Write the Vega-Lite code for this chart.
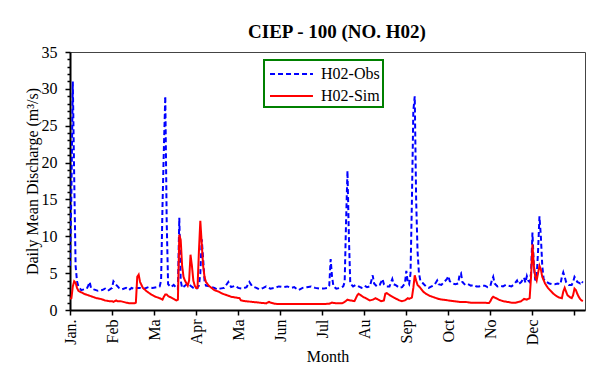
{
  "$schema": "https://vega.github.io/schema/vega-lite/v6.json",
  "width": 515,
  "height": 258,
  "autosize": "none",
  "padding": {"left": 70, "top": 52, "right": 7, "bottom": 69},
  "title": {"text": "CIEP - 100 (NO. H02)", "font": "Liberation Serif", "fontSize": 19, "fontWeight": "bold", "color": "#000", "anchor": "middle", "frame": "group", "dx": 9.5, "offset": 2},
  "config": {
    "view": {"stroke": "#444", "strokeWidth": 1},
    "legend": {"strokeWidth": 2},
    "axis": {"labelFont": "Liberation Serif", "titleFont": "Liberation Serif", "labelFontSize": 16, "titleFontSize": 16, "titleFontWeight": "normal", "labelColor": "#000", "titleColor": "#000", "domainColor": "#000", "domainWidth": 2, "tickColor": "#000", "tickWidth": 1.5, "grid": false}
  },
  "data": {"values": [
    {"d":0,"v":6,"s":"H02-Obs"},{"d":1,"v":16,"s":"H02-Obs"},{"d":2,"v":31,"s":"H02-Obs"},{"d":3,"v":18,"s":"H02-Obs"},{"d":4,"v":6,"s":"H02-Obs"},{"d":5,"v":3.9,"s":"H02-Obs"},{"d":6,"v":3.2,"s":"H02-Obs"},{"d":8,"v":2.7,"s":"H02-Obs"},{"d":10,"v":2.8,"s":"H02-Obs"},{"d":12,"v":2.9,"s":"H02-Obs"},{"d":13,"v":3.3,"s":"H02-Obs"},{"d":14,"v":3.8,"s":"H02-Obs"},{"d":15,"v":3.0,"s":"H02-Obs"},{"d":17,"v":2.8,"s":"H02-Obs"},{"d":20,"v":2.6,"s":"H02-Obs"},{"d":23,"v":2.7,"s":"H02-Obs"},{"d":25,"v":2.9,"s":"H02-Obs"},{"d":27,"v":2.6,"s":"H02-Obs"},{"d":30,"v":3.0,"s":"H02-Obs"},{"d":31,"v":3.9,"s":"H02-Obs"},{"d":33,"v":3.4,"s":"H02-Obs"},{"d":35,"v":3.0,"s":"H02-Obs"},{"d":37,"v":2.8,"s":"H02-Obs"},{"d":40,"v":3.0,"s":"H02-Obs"},{"d":42,"v":2.7,"s":"H02-Obs"},{"d":44,"v":3.0,"s":"H02-Obs"},{"d":46,"v":2.8,"s":"H02-Obs"},{"d":48,"v":3.0,"s":"H02-Obs"},{"d":50,"v":3.0,"s":"H02-Obs"},{"d":53,"v":2.9,"s":"H02-Obs"},{"d":56,"v":3.1,"s":"H02-Obs"},{"d":59,"v":3.0,"s":"H02-Obs"},{"d":62,"v":3.1,"s":"H02-Obs"},{"d":64,"v":3.2,"s":"H02-Obs"},{"d":65,"v":4.0,"s":"H02-Obs"},{"d":66,"v":14,"s":"H02-Obs"},{"d":67,"v":22,"s":"H02-Obs"},{"d":68,"v":29,"s":"H02-Obs"},{"d":69,"v":12,"s":"H02-Obs"},{"d":70,"v":3.5,"s":"H02-Obs"},{"d":72,"v":3.1,"s":"H02-Obs"},{"d":74,"v":3.4,"s":"H02-Obs"},{"d":75,"v":3.2,"s":"H02-Obs"},{"d":77,"v":2.8,"s":"H02-Obs"},{"d":78,"v":12.5,"s":"H02-Obs"},{"d":79,"v":4,"s":"H02-Obs"},{"d":80,"v":3.0,"s":"H02-Obs"},{"d":82,"v":3.3,"s":"H02-Obs"},{"d":84,"v":3.6,"s":"H02-Obs"},{"d":86,"v":3.3,"s":"H02-Obs"},{"d":88,"v":3.0,"s":"H02-Obs"},{"d":90,"v":2.8,"s":"H02-Obs"},{"d":92,"v":3.3,"s":"H02-Obs"},{"d":93,"v":5,"s":"H02-Obs"},{"d":94,"v":9.6,"s":"H02-Obs"},{"d":95,"v":7,"s":"H02-Obs"},{"d":96,"v":4,"s":"H02-Obs"},{"d":97,"v":3.3,"s":"H02-Obs"},{"d":100,"v":3.2,"s":"H02-Obs"},{"d":103,"v":3.0,"s":"H02-Obs"},{"d":105,"v":2.8,"s":"H02-Obs"},{"d":107,"v":2.9,"s":"H02-Obs"},{"d":110,"v":3.0,"s":"H02-Obs"},{"d":113,"v":3.8,"s":"H02-Obs"},{"d":115,"v":3.1,"s":"H02-Obs"},{"d":118,"v":3.3,"s":"H02-Obs"},{"d":120,"v":3.0,"s":"H02-Obs"},{"d":123,"v":2.9,"s":"H02-Obs"},{"d":126,"v":3.1,"s":"H02-Obs"},{"d":128,"v":3.8,"s":"H02-Obs"},{"d":130,"v":3.2,"s":"H02-Obs"},{"d":133,"v":3.0,"s":"H02-Obs"},{"d":135,"v":2.8,"s":"H02-Obs"},{"d":138,"v":3.0,"s":"H02-Obs"},{"d":140,"v":3.2,"s":"H02-Obs"},{"d":143,"v":2.9,"s":"H02-Obs"},{"d":146,"v":3.0,"s":"H02-Obs"},{"d":149,"v":3.2,"s":"H02-Obs"},{"d":152,"v":3.1,"s":"H02-Obs"},{"d":155,"v":3.2,"s":"H02-Obs"},{"d":158,"v":3.0,"s":"H02-Obs"},{"d":160,"v":3.1,"s":"H02-Obs"},{"d":163,"v":2.7,"s":"H02-Obs"},{"d":166,"v":3.0,"s":"H02-Obs"},{"d":169,"v":3.1,"s":"H02-Obs"},{"d":172,"v":3.2,"s":"H02-Obs"},{"d":175,"v":3.0,"s":"H02-Obs"},{"d":178,"v":2.9,"s":"H02-Obs"},{"d":181,"v":2.9,"s":"H02-Obs"},{"d":184,"v":3.0,"s":"H02-Obs"},{"d":185,"v":3.3,"s":"H02-Obs"},{"d":186,"v":6.9,"s":"H02-Obs"},{"d":187,"v":4.5,"s":"H02-Obs"},{"d":188,"v":3.2,"s":"H02-Obs"},{"d":190,"v":2.9,"s":"H02-Obs"},{"d":193,"v":3.0,"s":"H02-Obs"},{"d":195,"v":3.2,"s":"H02-Obs"},{"d":196,"v":3.8,"s":"H02-Obs"},{"d":197,"v":12,"s":"H02-Obs"},{"d":198,"v":18.9,"s":"H02-Obs"},{"d":199,"v":10,"s":"H02-Obs"},{"d":200,"v":3.6,"s":"H02-Obs"},{"d":202,"v":3.2,"s":"H02-Obs"},{"d":204,"v":3.4,"s":"H02-Obs"},{"d":206,"v":3.2,"s":"H02-Obs"},{"d":208,"v":3.0,"s":"H02-Obs"},{"d":210,"v":3.3,"s":"H02-Obs"},{"d":212,"v":3.1,"s":"H02-Obs"},{"d":214,"v":3.2,"s":"H02-Obs"},{"d":216,"v":4.7,"s":"H02-Obs"},{"d":217,"v":3.6,"s":"H02-Obs"},{"d":219,"v":3.2,"s":"H02-Obs"},{"d":221,"v":3.4,"s":"H02-Obs"},{"d":223,"v":4.2,"s":"H02-Obs"},{"d":224,"v":3.5,"s":"H02-Obs"},{"d":226,"v":3.2,"s":"H02-Obs"},{"d":228,"v":3.2,"s":"H02-Obs"},{"d":230,"v":4.2,"s":"H02-Obs"},{"d":231,"v":3.5,"s":"H02-Obs"},{"d":233,"v":3.3,"s":"H02-Obs"},{"d":235,"v":3.0,"s":"H02-Obs"},{"d":237,"v":3.1,"s":"H02-Obs"},{"d":239,"v":3.6,"s":"H02-Obs"},{"d":240,"v":5.3,"s":"H02-Obs"},{"d":241,"v":3.8,"s":"H02-Obs"},{"d":242,"v":3.5,"s":"H02-Obs"},{"d":243,"v":5,"s":"H02-Obs"},{"d":244,"v":15,"s":"H02-Obs"},{"d":245,"v":27,"s":"H02-Obs"},{"d":246,"v":29,"s":"H02-Obs"},{"d":247,"v":15,"s":"H02-Obs"},{"d":248,"v":8,"s":"H02-Obs"},{"d":249,"v":5,"s":"H02-Obs"},{"d":250,"v":4,"s":"H02-Obs"},{"d":252,"v":3.6,"s":"H02-Obs"},{"d":254,"v":3.2,"s":"H02-Obs"},{"d":256,"v":3.0,"s":"H02-Obs"},{"d":258,"v":3.2,"s":"H02-Obs"},{"d":260,"v":3.4,"s":"H02-Obs"},{"d":262,"v":4.0,"s":"H02-Obs"},{"d":263,"v":3.5,"s":"H02-Obs"},{"d":265,"v":3.4,"s":"H02-Obs"},{"d":267,"v":3.8,"s":"H02-Obs"},{"d":269,"v":4.2,"s":"H02-Obs"},{"d":270,"v":4.6,"s":"H02-Obs"},{"d":271,"v":3.9,"s":"H02-Obs"},{"d":273,"v":3.6,"s":"H02-Obs"},{"d":275,"v":3.5,"s":"H02-Obs"},{"d":277,"v":3.6,"s":"H02-Obs"},{"d":278,"v":4.8,"s":"H02-Obs"},{"d":279,"v":5.0,"s":"H02-Obs"},{"d":280,"v":3.8,"s":"H02-Obs"},{"d":282,"v":3.4,"s":"H02-Obs"},{"d":284,"v":3.5,"s":"H02-Obs"},{"d":286,"v":3.3,"s":"H02-Obs"},{"d":288,"v":3.4,"s":"H02-Obs"},{"d":290,"v":3.2,"s":"H02-Obs"},{"d":292,"v":3.2,"s":"H02-Obs"},{"d":294,"v":3.3,"s":"H02-Obs"},{"d":296,"v":3.3,"s":"H02-Obs"},{"d":298,"v":3.1,"s":"H02-Obs"},{"d":300,"v":3.3,"s":"H02-Obs"},{"d":301,"v":4.0,"s":"H02-Obs"},{"d":302,"v":4.5,"s":"H02-Obs"},{"d":303,"v":3.6,"s":"H02-Obs"},{"d":305,"v":3.2,"s":"H02-Obs"},{"d":307,"v":3.3,"s":"H02-Obs"},{"d":309,"v":3.2,"s":"H02-Obs"},{"d":311,"v":3.4,"s":"H02-Obs"},{"d":313,"v":3.3,"s":"H02-Obs"},{"d":315,"v":3.2,"s":"H02-Obs"},{"d":317,"v":3.5,"s":"H02-Obs"},{"d":319,"v":4.0,"s":"H02-Obs"},{"d":320,"v":3.5,"s":"H02-Obs"},{"d":322,"v":3.8,"s":"H02-Obs"},{"d":324,"v":4.4,"s":"H02-Obs"},{"d":325,"v":3.7,"s":"H02-Obs"},{"d":326,"v":4.6,"s":"H02-Obs"},{"d":327,"v":4.0,"s":"H02-Obs"},{"d":328,"v":3.8,"s":"H02-Obs"},{"d":329,"v":5,"s":"H02-Obs"},{"d":330,"v":10.5,"s":"H02-Obs"},{"d":331,"v":6,"s":"H02-Obs"},{"d":332,"v":4,"s":"H02-Obs"},{"d":333,"v":4.5,"s":"H02-Obs"},{"d":334,"v":8,"s":"H02-Obs"},{"d":335,"v":12.7,"s":"H02-Obs"},{"d":336,"v":10,"s":"H02-Obs"},{"d":337,"v":6,"s":"H02-Obs"},{"d":338,"v":4.2,"s":"H02-Obs"},{"d":340,"v":3.8,"s":"H02-Obs"},{"d":342,"v":3.6,"s":"H02-Obs"},{"d":344,"v":3.5,"s":"H02-Obs"},{"d":346,"v":3.5,"s":"H02-Obs"},{"d":348,"v":3.6,"s":"H02-Obs"},{"d":350,"v":3.5,"s":"H02-Obs"},{"d":351,"v":4.5,"s":"H02-Obs"},{"d":352,"v":5.1,"s":"H02-Obs"},{"d":353,"v":4.5,"s":"H02-Obs"},{"d":354,"v":3.8,"s":"H02-Obs"},{"d":356,"v":3.4,"s":"H02-Obs"},{"d":358,"v":3.4,"s":"H02-Obs"},{"d":359,"v":3.8,"s":"H02-Obs"},{"d":360,"v":4.5,"s":"H02-Obs"},{"d":361,"v":4.2,"s":"H02-Obs"},{"d":362,"v":3.8,"s":"H02-Obs"},{"d":363,"v":3.7,"s":"H02-Obs"},{"d":364,"v":3.6,"s":"H02-Obs"},{"d":365,"v":3.9,"s":"H02-Obs"},{"d":366,"v":3.7,"s":"H02-Obs"},
    {"d":0,"v":1.5,"s":"H02-Sim"},{"d":1,"v":1.6,"s":"H02-Sim"},{"d":2,"v":3.2,"s":"H02-Sim"},{"d":3,"v":3.9,"s":"H02-Sim"},{"d":4,"v":3.7,"s":"H02-Sim"},{"d":5,"v":3.0,"s":"H02-Sim"},{"d":6,"v":2.6,"s":"H02-Sim"},{"d":8,"v":2.4,"s":"H02-Sim"},{"d":10,"v":2.2,"s":"H02-Sim"},{"d":13,"v":2.0,"s":"H02-Sim"},{"d":16,"v":1.8,"s":"H02-Sim"},{"d":19,"v":1.6,"s":"H02-Sim"},{"d":22,"v":1.5,"s":"H02-Sim"},{"d":25,"v":1.3,"s":"H02-Sim"},{"d":28,"v":1.2,"s":"H02-Sim"},{"d":30,"v":1.2,"s":"H02-Sim"},{"d":31,"v":1.1,"s":"H02-Sim"},{"d":33,"v":1.3,"s":"H02-Sim"},{"d":34,"v":1.2,"s":"H02-Sim"},{"d":36,"v":1.2,"s":"H02-Sim"},{"d":38,"v":1.1,"s":"H02-Sim"},{"d":40,"v":1.0,"s":"H02-Sim"},{"d":43,"v":0.9,"s":"H02-Sim"},{"d":46,"v":0.9,"s":"H02-Sim"},{"d":47,"v":1.0,"s":"H02-Sim"},{"d":48,"v":4.5,"s":"H02-Sim"},{"d":49,"v":4.8,"s":"H02-Sim"},{"d":50,"v":3.8,"s":"H02-Sim"},{"d":52,"v":3.0,"s":"H02-Sim"},{"d":55,"v":2.5,"s":"H02-Sim"},{"d":58,"v":2.1,"s":"H02-Sim"},{"d":61,"v":1.8,"s":"H02-Sim"},{"d":64,"v":1.6,"s":"H02-Sim"},{"d":66,"v":1.4,"s":"H02-Sim"},{"d":67,"v":1.8,"s":"H02-Sim"},{"d":68,"v":2.1,"s":"H02-Sim"},{"d":69,"v":2.1,"s":"H02-Sim"},{"d":70,"v":1.9,"s":"H02-Sim"},{"d":72,"v":1.7,"s":"H02-Sim"},{"d":74,"v":1.5,"s":"H02-Sim"},{"d":76,"v":1.3,"s":"H02-Sim"},{"d":77,"v":1.4,"s":"H02-Sim"},{"d":78,"v":10.2,"s":"H02-Sim"},{"d":79,"v":9.5,"s":"H02-Sim"},{"d":80,"v":6,"s":"H02-Sim"},{"d":81,"v":4.5,"s":"H02-Sim"},{"d":82,"v":4,"s":"H02-Sim"},{"d":84,"v":3.3,"s":"H02-Sim"},{"d":85,"v":4,"s":"H02-Sim"},{"d":86,"v":7.5,"s":"H02-Sim"},{"d":87,"v":6,"s":"H02-Sim"},{"d":88,"v":4,"s":"H02-Sim"},{"d":89,"v":3.3,"s":"H02-Sim"},{"d":90,"v":3.0,"s":"H02-Sim"},{"d":91,"v":3.0,"s":"H02-Sim"},{"d":92,"v":8,"s":"H02-Sim"},{"d":93,"v":12.1,"s":"H02-Sim"},{"d":94,"v":9,"s":"H02-Sim"},{"d":95,"v":6,"s":"H02-Sim"},{"d":96,"v":4.5,"s":"H02-Sim"},{"d":97,"v":3.8,"s":"H02-Sim"},{"d":99,"v":3.3,"s":"H02-Sim"},{"d":101,"v":3.0,"s":"H02-Sim"},{"d":103,"v":2.7,"s":"H02-Sim"},{"d":106,"v":2.5,"s":"H02-Sim"},{"d":109,"v":2.2,"s":"H02-Sim"},{"d":112,"v":2.0,"s":"H02-Sim"},{"d":115,"v":1.8,"s":"H02-Sim"},{"d":118,"v":1.7,"s":"H02-Sim"},{"d":121,"v":1.6,"s":"H02-Sim"},{"d":122,"v":1.3,"s":"H02-Sim"},{"d":125,"v":1.2,"s":"H02-Sim"},{"d":130,"v":1.1,"s":"H02-Sim"},{"d":135,"v":1.0,"s":"H02-Sim"},{"d":140,"v":0.9,"s":"H02-Sim"},{"d":141,"v":1.0,"s":"H02-Sim"},{"d":142,"v":1.1,"s":"H02-Sim"},{"d":143,"v":1.0,"s":"H02-Sim"},{"d":146,"v":0.85,"s":"H02-Sim"},{"d":150,"v":0.8,"s":"H02-Sim"},{"d":160,"v":0.8,"s":"H02-Sim"},{"d":170,"v":0.8,"s":"H02-Sim"},{"d":180,"v":0.8,"s":"H02-Sim"},{"d":185,"v":0.85,"s":"H02-Sim"},{"d":187,"v":1.0,"s":"H02-Sim"},{"d":190,"v":0.9,"s":"H02-Sim"},{"d":194,"v":0.9,"s":"H02-Sim"},{"d":196,"v":1.1,"s":"H02-Sim"},{"d":198,"v":1.4,"s":"H02-Sim"},{"d":200,"v":1.3,"s":"H02-Sim"},{"d":203,"v":1.2,"s":"H02-Sim"},{"d":205,"v":2.0,"s":"H02-Sim"},{"d":206,"v":2.2,"s":"H02-Sim"},{"d":209,"v":1.8,"s":"H02-Sim"},{"d":212,"v":1.5,"s":"H02-Sim"},{"d":214,"v":1.3,"s":"H02-Sim"},{"d":216,"v":1.4,"s":"H02-Sim"},{"d":218,"v":1.6,"s":"H02-Sim"},{"d":220,"v":1.4,"s":"H02-Sim"},{"d":222,"v":1.2,"s":"H02-Sim"},{"d":224,"v":1.3,"s":"H02-Sim"},{"d":225,"v":2.2,"s":"H02-Sim"},{"d":226,"v":2.3,"s":"H02-Sim"},{"d":229,"v":1.9,"s":"H02-Sim"},{"d":232,"v":1.6,"s":"H02-Sim"},{"d":235,"v":1.3,"s":"H02-Sim"},{"d":237,"v":1.2,"s":"H02-Sim"},{"d":239,"v":1.3,"s":"H02-Sim"},{"d":241,"v":1.6,"s":"H02-Sim"},{"d":242,"v":1.5,"s":"H02-Sim"},{"d":244,"v":1.7,"s":"H02-Sim"},{"d":245,"v":3.0,"s":"H02-Sim"},{"d":246,"v":4.7,"s":"H02-Sim"},{"d":247,"v":4.0,"s":"H02-Sim"},{"d":248,"v":3.4,"s":"H02-Sim"},{"d":250,"v":3.0,"s":"H02-Sim"},{"d":252,"v":2.5,"s":"H02-Sim"},{"d":254,"v":2.2,"s":"H02-Sim"},{"d":257,"v":1.9,"s":"H02-Sim"},{"d":260,"v":1.7,"s":"H02-Sim"},{"d":263,"v":1.5,"s":"H02-Sim"},{"d":266,"v":1.4,"s":"H02-Sim"},{"d":270,"v":1.3,"s":"H02-Sim"},{"d":274,"v":1.2,"s":"H02-Sim"},{"d":278,"v":1.1,"s":"H02-Sim"},{"d":282,"v":1.1,"s":"H02-Sim"},{"d":286,"v":1.0,"s":"H02-Sim"},{"d":290,"v":1.0,"s":"H02-Sim"},{"d":294,"v":1.0,"s":"H02-Sim"},{"d":299,"v":0.95,"s":"H02-Sim"},{"d":300,"v":1.2,"s":"H02-Sim"},{"d":301,"v":1.6,"s":"H02-Sim"},{"d":302,"v":1.8,"s":"H02-Sim"},{"d":304,"v":1.6,"s":"H02-Sim"},{"d":306,"v":1.4,"s":"H02-Sim"},{"d":309,"v":1.2,"s":"H02-Sim"},{"d":312,"v":1.1,"s":"H02-Sim"},{"d":315,"v":1.0,"s":"H02-Sim"},{"d":318,"v":1.0,"s":"H02-Sim"},{"d":320,"v":1.1,"s":"H02-Sim"},{"d":322,"v":1.2,"s":"H02-Sim"},{"d":324,"v":1.5,"s":"H02-Sim"},{"d":326,"v":1.4,"s":"H02-Sim"},{"d":328,"v":1.6,"s":"H02-Sim"},{"d":329,"v":4.5,"s":"H02-Sim"},{"d":330,"v":8.9,"s":"H02-Sim"},{"d":331,"v":6,"s":"H02-Sim"},{"d":332,"v":4.5,"s":"H02-Sim"},{"d":333,"v":4.0,"s":"H02-Sim"},{"d":334,"v":5,"s":"H02-Sim"},{"d":335,"v":6,"s":"H02-Sim"},{"d":336,"v":5.5,"s":"H02-Sim"},{"d":337,"v":4.5,"s":"H02-Sim"},{"d":339,"v":3.6,"s":"H02-Sim"},{"d":341,"v":3.0,"s":"H02-Sim"},{"d":343,"v":2.6,"s":"H02-Sim"},{"d":345,"v":2.2,"s":"H02-Sim"},{"d":347,"v":1.9,"s":"H02-Sim"},{"d":349,"v":1.7,"s":"H02-Sim"},{"d":351,"v":1.6,"s":"H02-Sim"},{"d":352,"v":2.5,"s":"H02-Sim"},{"d":353,"v":3.0,"s":"H02-Sim"},{"d":354,"v":2.5,"s":"H02-Sim"},{"d":355,"v":2.0,"s":"H02-Sim"},{"d":357,"v":1.7,"s":"H02-Sim"},{"d":358,"v":1.6,"s":"H02-Sim"},{"d":359,"v":2.0,"s":"H02-Sim"},{"d":360,"v":2.9,"s":"H02-Sim"},{"d":361,"v":2.7,"s":"H02-Sim"},{"d":362,"v":2.2,"s":"H02-Sim"},{"d":363,"v":1.8,"s":"H02-Sim"},{"d":364,"v":1.5,"s":"H02-Sim"},{"d":365,"v":1.3,"s":"H02-Sim"},{"d":366,"v":1.2,"s":"H02-Sim"}
  ]},
  "mark": {"type": "line", "strokeWidth": 2, "clip": true},
  "encoding": {
    "x": {"field": "d", "type": "quantitative", "title": "Month",
      "scale": {"domain": [0, 367.5], "nice": false, "zero": false},
      "axis": {"values": [0,30,60,90,120,150,180,210,240,270,300,330,360], "labelAngle": -90, "labelPadding": 4, "tickSize": 5, "titlePadding": 4,
        "labelExpr": "['Jan.','Feb','Ma','Apr','Ma','Jun','Jul','Au','Sep','Oct','No','Dec',''][round(datum.value/30)]"}},
    "y": {"field": "v", "type": "quantitative", "title": "Daily Mean Discharge (m³/s)",
      "scale": {"domain": [0, 35], "nice": false},
      "axis": {"values": [0,1,2,3,4,5,6,7,8,9,10,11,12,13,14,15,16,17,18,19,20,21,22,23,24,25,26,27,28,29,30,31,32,33,34,35],
        "labelExpr": "datum.value % 5 === 0 ? datum.label : ''",
        "tickSize": {"expr": "datum.value % 5 === 0 ? 5 : 3"},
        "labelPadding": 8, "titlePadding": 1, "labelFlush": false, "labelOverlap": false}},
    "color": {"field": "s", "type": "nominal",
      "scale": {"domain": ["H02-Obs", "H02-Sim"], "range": ["#0000ff", "#ff0000"]},
      "legend": {"title": null, "orient": "none", "legendX": 194, "legendY": 8, "symbolType": "M-0.76,0H3.33", "symbolSize": 441, "symbolStrokeWidth": 2, "labelFont": "Liberation Serif", "labelFontSize": 16, "labelColor": "#000", "labelExpr": "datum.label + '\u00a0\u00a0'", "strokeColor": "#008000", "fillColor": "#ffffff", "padding": 2.5, "rowPadding": 2, "labelOffset": 31.5}},
    "strokeDash": {"field": "s", "type": "nominal",
      "scale": {"domain": ["H02-Obs", "H02-Sim"], "range": [[5, 3], [1, 0]]},
      "legend": {"title": null, "orient": "none", "legendX": 194, "legendY": 8, "symbolType": "M-0.76,0H3.33", "symbolSize": 441, "symbolStrokeWidth": 2, "labelFont": "Liberation Serif", "labelFontSize": 16, "labelColor": "#000", "labelExpr": "datum.label + '\u00a0\u00a0'", "strokeColor": "#008000", "fillColor": "#ffffff", "padding": 2.5, "rowPadding": 2, "labelOffset": 31.5}}
  }
}
